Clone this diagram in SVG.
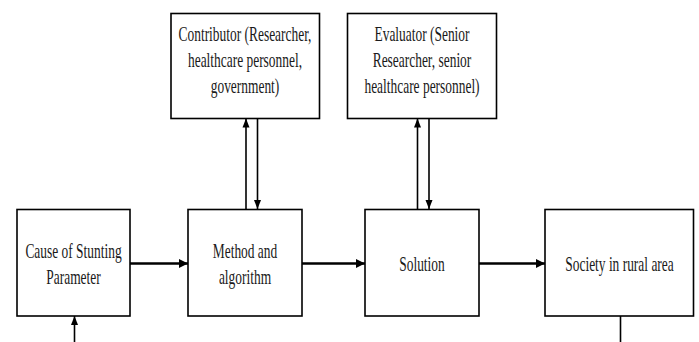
<svg xmlns="http://www.w3.org/2000/svg" width="699" height="342" viewBox="0 0 699 342">
  <style>
    .box { fill: #ffffff; stroke: #000000; stroke-width: 1.6; }
    .lbl { font-family: "Liberation Serif", "Times New Roman", serif; font-size: 21px; fill: #1a1a1a; text-anchor: middle; }
    .flow { fill: none; stroke: #000000; stroke-width: 2.6; }
    .link { fill: none; stroke: #000000; stroke-width: 1.6; }
  </style>
  <defs>
    <marker id="headH" markerUnits="userSpaceOnUse" markerWidth="10" markerHeight="12" refX="9" refY="6" orient="auto">
      <path d="M0,1.5 L9,6 L0,10.5 Z" fill="#000000"/>
    </marker>
    <marker id="headV" markerUnits="userSpaceOnUse" markerWidth="10" markerHeight="10" refX="9" refY="5" orient="auto">
      <path d="M0,1.5 L9,5 L0,8.5 Z" fill="#000000"/>
    </marker>
  </defs>

  <rect width="699" height="342" fill="#ffffff"/>

  <!-- connectors -->
  <g id="connectors">
    <line class="flow" x1="130" y1="263.5" x2="188" y2="263.5" marker-end="url(#headH)"/>
    <line class="flow" x1="302" y1="263.5" x2="365" y2="263.5" marker-end="url(#headH)"/>
    <line class="flow" x1="479" y1="263.5" x2="545" y2="263.5" marker-end="url(#headH)"/>

    <line class="link" x1="246" y1="209" x2="246" y2="118.5" marker-end="url(#headV)"/>
    <line class="link" x1="257.5" y1="118.5" x2="257.5" y2="209" marker-end="url(#headV)"/>

    <line class="link" x1="417.5" y1="209" x2="417.5" y2="118.5" marker-end="url(#headV)"/>
    <line class="link" x1="429" y1="118.5" x2="429" y2="209" marker-end="url(#headV)"/>

    <line class="link" x1="74.5" y1="342" x2="74.5" y2="316" marker-end="url(#headV)"/>
    <line class="link" x1="620.5" y1="316" x2="620.5" y2="342"/>
  </g>

  <!-- nodes -->
  <g id="cause">
    <rect class="box" x="17" y="209.5" width="113" height="106.5"/>
    <g transform="translate(73.5,0) scale(0.64,1)">
      <text class="lbl" x="0" y="258">Cause of Stunting</text>
      <text class="lbl" x="0" y="284">Parameter</text>
    </g>
  </g>

  <g id="method">
    <rect class="box" x="188" y="209.5" width="114" height="106.5"/>
    <g transform="translate(245,0) scale(0.64,1)">
      <text class="lbl" x="0" y="258">Method and</text>
      <text class="lbl" x="0" y="284">algorithm</text>
    </g>
  </g>

  <g id="solution">
    <rect class="box" x="365" y="209.5" width="114" height="106.5"/>
    <g transform="translate(422,0) scale(0.64,1)">
      <text class="lbl" x="0" y="271">Solution</text>
    </g>
  </g>

  <g id="society">
    <rect class="box" x="545" y="209.5" width="148.5" height="106.5"/>
    <g transform="translate(619.5,0) scale(0.64,1)">
      <text class="lbl" x="0" y="271">Society in rural area</text>
    </g>
  </g>

  <g id="contributor">
    <rect class="box" x="171" y="13.5" width="148.5" height="105"/>
    <g transform="translate(245,0) scale(0.64,1)">
      <text class="lbl" x="0" y="41">Contributor (Researcher,</text>
      <text class="lbl" x="0" y="67">healthcare personnel,</text>
      <text class="lbl" x="0" y="93">government)</text>
    </g>
  </g>

  <g id="evaluator">
    <rect class="box" x="347.5" y="13.5" width="149" height="105"/>
    <g transform="translate(422,0) scale(0.64,1)">
      <text class="lbl" x="0" y="41">Evaluator (Senior</text>
      <text class="lbl" x="0" y="67">Researcher, senior</text>
      <text class="lbl" x="0" y="93">healthcare personnel)</text>
    </g>
  </g>
</svg>
